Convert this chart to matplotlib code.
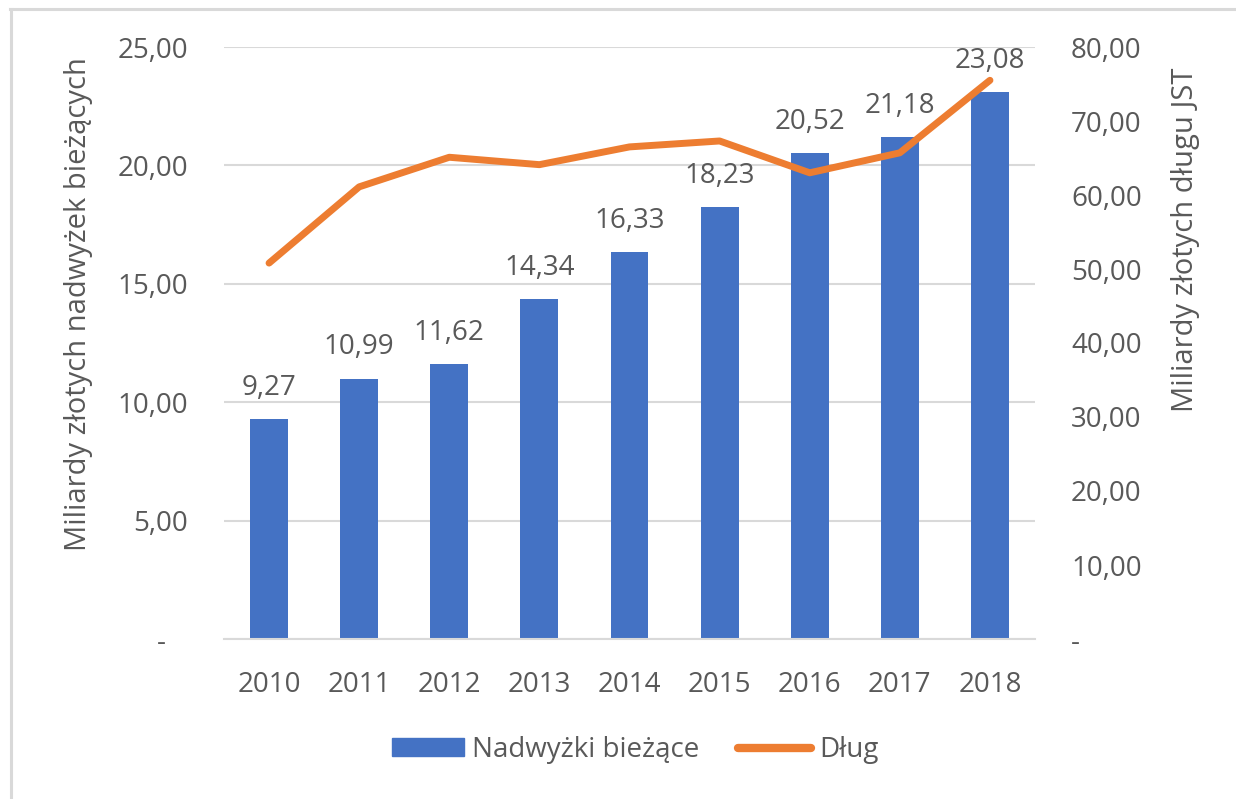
import matplotlib
matplotlib.use("Agg")
import matplotlib.pyplot as plt
from matplotlib.patches import Rectangle
from matplotlib.lines import Line2D
from matplotlib.ticker import FuncFormatter

plt.rcParams['font.family'] = ['Open Sans', 'DejaVu Sans']

years = ['2010', '2011', '2012', '2013', '2014', '2015', '2016', '2017', '2018']
surplus = [9.27, 10.99, 11.62, 14.34, 16.33, 18.23, 20.52, 21.18, 23.08]
debt = [50.8, 61.1, 65.1, 64.1, 66.5, 67.3, 63.0, 65.7, 75.5]

bar_color = '#4472C4'
line_color = '#ED7D31'
text_color = '#595959'
grid_color = '#D9D9D9'

W, H = 1236, 799
fig = plt.figure(figsize=(W / 100, H / 100), dpi=100)
# frame lines (top and left) of the screenshot
fig.add_artist(Line2D([10 / W, 1.0], [1 - 8.5 / H, 1 - 8.5 / H], transform=fig.transFigure,
                      color='#D9D9D9', linewidth=2.2))
fig.add_artist(Line2D([11 / W, 11 / W], [0.0, 1 - 8.5 / H], transform=fig.transFigure,
                      color='#D9D9D9', linewidth=2.2))

ax = fig.add_axes([224 / W, 1 - 639 / H, (1035 - 224) / W, (639 - 47) / H])
ax2 = ax.twinx()

x = list(range(len(years)))
ax.bar(x, surplus, width=0.42, color=bar_color, zorder=2)
ax2.plot(x, debt, color=line_color, linewidth=5, solid_capstyle='round', zorder=3)

for xi, v in zip(x, surplus):
    ax2.annotate(f"{v:.2f}".replace('.', ','), (xi, v * 80 / 25), xytext=(0, 17.5),
                 textcoords='offset points', ha='center', va='baseline',
                 fontsize=20, color=text_color, zorder=4)

def fmt_left(v, pos):
    if abs(v) < 1e-9:
        return '-   '
    return f"{v:.2f}".replace('.', ',')

def fmt_right(v, pos):
    if abs(v) < 1e-9:
        return '-'
    return f"{v:.2f}".replace('.', ',')

ax.set_ylim(0, 25)
ax.set_yticks([0, 5, 10, 15, 20, 25])
ax2.set_ylim(0, 80)
ax2.set_yticks(range(0, 81, 10))
ax.yaxis.set_major_formatter(FuncFormatter(fmt_left))
ax2.yaxis.set_major_formatter(FuncFormatter(fmt_right))
ax.set_xlim(-0.5, len(years) - 0.5)
ax.set_xticks(x)
ax.set_xticklabels(years)

ax.grid(axis='y', color=grid_color, linewidth=1.5, zorder=0)
ax.set_axisbelow(True)
ax2.patch.set_visible(False)
ax2.set_zorder(ax.get_zorder() + 1)

for a in (ax, ax2):
    for s in a.spines.values():
        s.set_visible(False)
ax.spines['bottom'].set_visible(True)
ax.spines['bottom'].set_color(grid_color)
ax.spines['bottom'].set_linewidth(1.5)

ax.tick_params(axis='y', length=0, labelsize=20, labelcolor=text_color, pad=26)
ax2.tick_params(axis='y', length=0, labelsize=20, labelcolor=text_color, pad=26)
ax.tick_params(axis='x', length=0, labelsize=20, labelcolor=text_color, pad=23)

fig.text(79 / W, 1 - 304 / H, 'Miliardy złotych nadwyżek bieżących', rotation=90,
         ha='center', va='center', fontsize=21, color=text_color)
fig.text(1186 / W, 1 - 240 / H, 'Miliardy złotych długu JST', rotation=90,
         ha='center', va='center', fontsize=21, color=text_color)

handles = [Rectangle((0, 0), 1, 1, color=bar_color),
           Line2D([0], [0], color=line_color, linewidth=6, solid_capstyle='round')]
fig.legend(handles, ['Nadwyżki bieżące', 'Dług'], loc='center', bbox_to_anchor=(635 / W, 1 - 750 / H),
           ncol=2, frameon=False, fontsize=20, labelcolor=text_color,
           handlelength=2.6, handleheight=0.6, columnspacing=1.4, handletextpad=0.3)

fig.savefig('out.png', dpi=100, facecolor='white')
